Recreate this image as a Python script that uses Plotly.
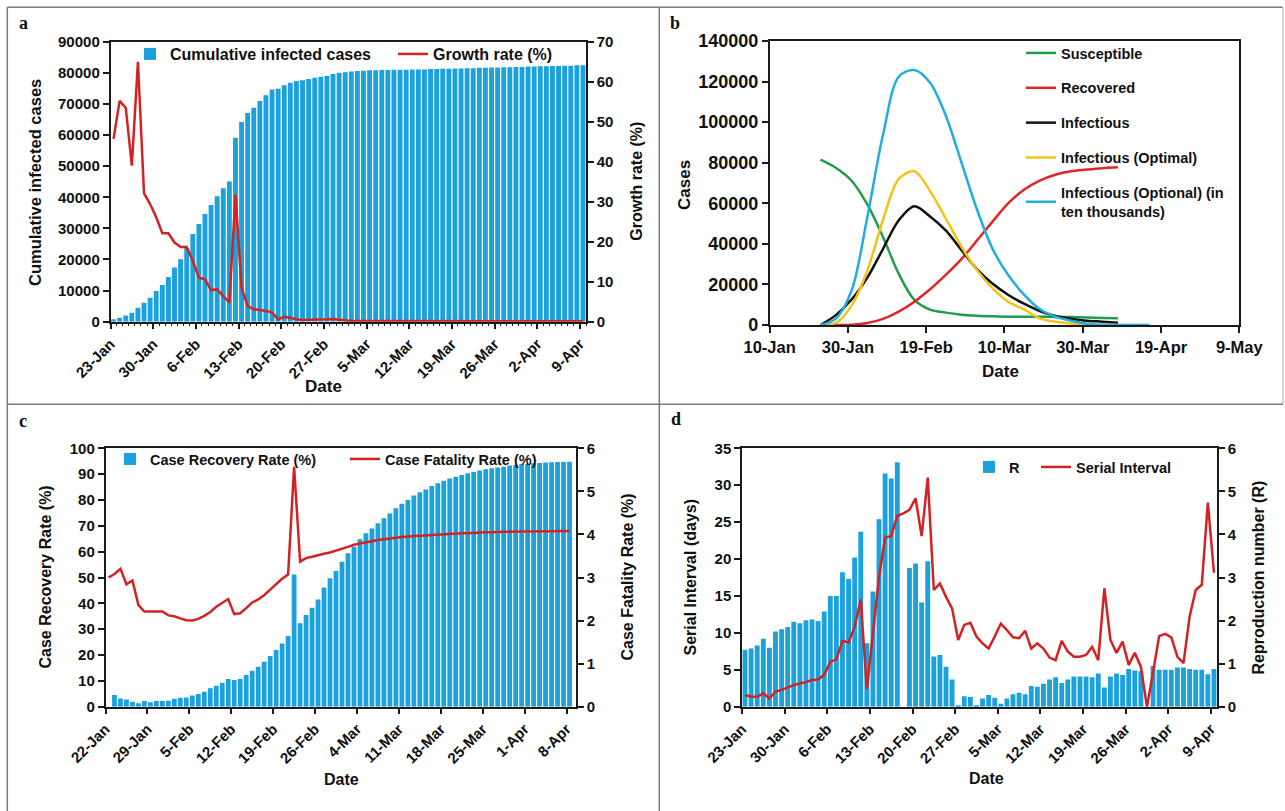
import pandas as pd
import plotly.graph_objects as go

# ---------------- data ----------------
# Panel a: cumulative infected cases (bars) and growth rate % (line), daily from 23-Jan
a_start = "2020-01-23"
a_cumulative = [750, 1300, 2000, 2900, 4500, 6100, 7700, 9900, 11800, 14400,
                17400, 20100, 23700, 28200, 31400, 34600, 37500, 40300, 42900, 45100,
                59100, 64200, 67100, 68800, 70900, 72800, 74600, 74900, 76000, 76800,
                77400, 77600, 78000, 78400, 78700, 79000, 79600, 80000, 80200, 80400,
                80600, 80700, 80800, 80800, 80900, 80900, 81000, 81000, 81000, 81100,
                81100, 81100, 81200, 81200, 81300, 81300, 81400, 81400, 81500, 81500,
                81600, 81600, 81700, 81700, 81800, 81800, 81900, 81900, 82000, 82000,
                82100, 82100, 82200, 82200, 82300, 82300, 82400, 82400]
a_growth = [45.7, 55.2, 53.5, 39.0, 65.0, 32.1, 29.4, 26.1, 22.1, 22.1,
            19.8, 18.7, 18.7, 15.2, 11.0, 10.6, 7.9, 8.1, 6.4, 4.8,
            31.7, 8.5, 3.9, 3.1, 2.9, 2.7, 2.3, 0.6, 1.2, 1.0,
            0.6, 0.4, 0.5, 0.5, 0.5, 0.6, 0.7, 0.5, 0.3, 0.2,
            0.2, 0.2, 0.2, 0.1, 0.1, 0.1, 0.1, 0.1, 0.1, 0.1,
            0.1, 0.1, 0.1, 0.1, 0.1, 0.1, 0.1, 0.1, 0.1, 0.1,
            0.1, 0.1, 0.1, 0.1, 0.1, 0.1, 0.1, 0.1, 0.1, 0.1,
            0.1, 0.1, 0.1, 0.1, 0.1, 0.1, 0.1, 0.1]

# Panel b: SIR model curves
b_dates = ["2020-01-23", "2020-01-27", "2020-01-31", "2020-02-04", "2020-02-08",
           "2020-02-12", "2020-02-16", "2020-02-20", "2020-02-24", "2020-02-28",
           "2020-03-03", "2020-03-07", "2020-03-11", "2020-03-15", "2020-03-19",
           "2020-03-23", "2020-03-27", "2020-03-31", "2020-04-04", "2020-04-08"]
b_dates_ext = b_dates + ["2020-04-12", "2020-04-16"]
b_susceptible = [81500, 77400, 71000, 59300, 43300, 25200, 12400, 7600, 6100, 5100,
                 4600, 4300, 4100, 4100, 4100, 4000, 3900, 3700, 3500, 3300]
b_recovered = [0, 0, 100, 1000, 3000, 6600, 11500, 17600, 24700, 32500,
               41700, 51100, 60100, 66700, 71200, 74100, 75800, 76600, 77300, 77800]
b_infectious = [0, 5000, 12700, 23500, 37600, 51600, 58500, 53500, 46600, 37000,
                27400, 20300, 14800, 10500, 6900, 4400, 3100, 2100, 1650, 1150]
b_inf_optimal = [0, 1100, 9700, 27000, 52000, 72000, 75800, 66000, 52500, 38700,
                 27000, 18000, 11400, 7700, 3300, 1600, 800, 300, 0, 0]
b_inf_optional = [0, 3300, 17300, 53500, 94000, 122400, 125700, 119400, 103300, 80200,
                  56800, 37400, 24500, 15000, 7900, 4100, 2100, 650, 150, 0, 0, 0]
b_names = ["Susceptible", "Recovered", "Infectious", "Infectious (Optimal)",
           "Infectious (Optional) (in<br>ten thousands)"]

# Panel c: case recovery rate % (bars) and case fatality rate % (line), daily from 22-Jan
c_start = "2020-01-22"
c_recovery = [0, 4.5, 3.2, 2.8, 1.9, 1.3, 2.2, 1.7, 2.2, 2.2,
              2.3, 3.1, 3.5, 3.6, 4.3, 4.9, 5.8, 7.1, 8.1, 9.3,
              10.7, 10.3, 10.7, 12.3, 13.9, 15.5, 17.4, 19.6, 21.9, 24.5,
              27.4, 51.2, 32.3, 35.5, 38.3, 41.5, 46.1, 49.7, 52.5, 56.1,
              59.4, 61.9, 64.8, 67.1, 69.0, 71.0, 72.9, 74.8, 76.8, 78.5,
              80.0, 81.7, 83.0, 84.1, 85.4, 86.5, 87.4, 88.3, 89.0, 89.7,
              90.3, 90.8, 91.4, 91.9, 92.3, 92.6, 92.9, 93.3, 93.5, 93.8,
              93.9, 94.2, 94.3, 94.5, 94.6, 94.7, 94.7, 94.8]
c_fatality = [3.0, 3.08, 3.2, 2.84, 2.93, 2.36, 2.21, 2.21, 2.21, 2.21,
              2.12, 2.10, 2.05, 2.01, 2.0, 2.04, 2.11, 2.2, 2.32, 2.42,
              2.5, 2.15, 2.17, 2.29, 2.42, 2.49, 2.59, 2.72, 2.85, 2.97,
              3.07, 5.57, 3.37, 3.45, 3.48, 3.52, 3.55, 3.58, 3.62, 3.66,
              3.71, 3.76, 3.79, 3.82, 3.85, 3.87, 3.89, 3.91, 3.93, 3.94,
              3.95, 3.96, 3.97, 3.98, 3.99, 4.0, 4.01, 4.02, 4.02, 4.03,
              4.03, 4.04, 4.04, 4.05, 4.05, 4.06, 4.06, 4.06, 4.07, 4.07,
              4.07, 4.07, 4.08, 4.08, 4.08, 4.08, 4.08, 4.08]

# Panel d: R (bars, left scale) and serial interval (line, right scale), daily from 23-Jan
d_start = "2020-01-23"
d_r = [7.7, 7.9, 8.3, 9.2, 8.0, 10.2, 10.5, 10.8, 11.5, 11.3,
       11.7, 11.8, 11.6, 12.9, 15.0, 15.0, 18.2, 17.3, 20.2, 23.7,
       8.6, 15.6, 25.4, 31.6, 30.9, 33.1, 0, 18.8, 19.4, 14.1,
       19.7, 6.8, 7.0, 5.4, 3.7, 0.2, 1.4, 1.3, 0.2, 1.1,
       1.6, 1.2, 0.4, 1.1, 1.7, 1.9, 1.7, 2.8, 2.7, 3.1,
       3.7, 4.0, 3.2, 3.7, 4.1, 4.1, 4.1, 4.0, 4.5, 2.6,
       4.1, 4.5, 4.3, 5.1, 4.9, 4.8, 0, 5.5, 5.0, 5.0,
       5.0, 5.3, 5.3, 5.1, 5.0, 5.0, 4.4, 5.1]
d_serial = [0.27, 0.23, 0.23, 0.31, 0.19, 0.35, 0.39, 0.45, 0.50, 0.54,
            0.57, 0.62, 0.63, 0.74, 1.04, 1.10, 1.53, 1.49, 1.86, 2.49,
            0.40, 1.7, 3.0, 3.93, 3.96, 4.43, 4.49, 4.57, 4.84, 3.96,
            5.32, 2.71, 2.86, 2.55, 2.28, 1.55, 1.90, 1.95, 1.63, 1.47,
            1.35, 1.63, 1.93, 1.78, 1.61, 1.59, 1.76, 1.35, 1.47, 1.35,
            1.14, 1.08, 1.53, 1.28, 1.16, 1.16, 1.20, 1.39, 1.08, 2.75,
            1.55, 1.25, 1.51, 0.97, 1.25, 0.93, 0.0, 0.8, 1.64, 1.69,
            1.61, 1.16, 1.01, 2.09, 2.71, 2.83, 4.74, 3.11]

# ---------------- styling ----------------
W, H = 1285, 811
FONT = "Liberation Sans, Arial, sans-serif"
BAR = "#1BA1DB"
RED = "#D42222"
AXC = "#1a1a1a"
DAY_MS = 86400000


def px(x):
    return x / W


def py(y):
    return 1 - y / H


def days(start, n):
    return pd.date_range(start, periods=n, freq="D") + pd.Timedelta(hours=12)


fig = go.Figure()

# Panel a
fig.add_trace(go.Bar(x=days(a_start, len(a_cumulative)), y=a_cumulative,
                     name="Cumulative infected cases", marker_color=BAR,
                     marker_line_width=0, xaxis="x", yaxis="y", legend="legend"))
fig.add_trace(go.Scatter(x=days(a_start, len(a_growth)), y=a_growth, mode="lines",
                         name="Growth rate (%)", line=dict(color=RED, width=2.5),
                         xaxis="x", yaxis="y2", legend="legend"))

# Panel b
b_colors = ["#1F9D4B", "#E02626", "#111111", "#F2C418", "#1FAEDF"]
b_series = [(b_dates, b_susceptible), (b_dates, b_recovered), (b_dates, b_infectious),
            (b_dates, b_inf_optimal), (b_dates_ext, b_inf_optional)]
for i, ((xs, ys), nm, col) in enumerate(zip(b_series, b_names, b_colors)):
    fig.add_trace(go.Scatter(x=xs, y=ys, mode="lines", name=nm,
                             line=dict(color=col, width=2.5, shape="spline", smoothing=0.9),
                             xaxis="x2", yaxis="y3", legend="legend2",
                             legendgroup="g%d" % i))

# Panel c
fig.add_trace(go.Bar(x=days(c_start, len(c_recovery)), y=c_recovery,
                     name="Case Recovery Rate (%)", marker_color=BAR,
                     marker_line_width=0, xaxis="x3", yaxis="y4", legend="legend3"))
fig.add_trace(go.Scatter(x=days(c_start, len(c_fatality)), y=c_fatality, mode="lines",
                         name="Case Fatality Rate (%)", line=dict(color=RED, width=2.5),
                         xaxis="x3", yaxis="y5", legend="legend3"))

# Panel d
fig.add_trace(go.Bar(x=days(d_start, len(d_r)), y=d_r, name="R", marker_color=BAR,
                     marker_line_width=0, xaxis="x4", yaxis="y6", legend="legend4"))
fig.add_trace(go.Scatter(x=days(d_start, len(d_serial)), y=d_serial, mode="lines",
                         name="Serial Interval", line=dict(color=RED, width=2.5),
                         xaxis="x4", yaxis="y7", legend="legend5"))

tickfont = dict(family=FONT, size=15, color="#111", weight="bold")
datefont = dict(family=FONT, size=15, color="#111", weight="bold")


def xdate(domain, anchor, start, end, dtick_days, angle, minor=False, font=datefont):
    d = dict(domain=domain, anchor=anchor, type="date", range=[start, end],
             tickmode="linear", tick0=start[:10], dtick=dtick_days * DAY_MS,
             tickformat="%-d-%b", tickangle=angle, tickfont=font, automargin=False,
             showline=True, linecolor=AXC, linewidth=1.5, mirror=True,
             ticks="outside", ticklen=6, tickcolor=AXC, tickwidth=1.5,
             showgrid=False, zeroline=False)
    if minor:
        d["minor"] = dict(dtick=DAY_MS, tick0=start[:10], ticks="outside",
                          ticklen=3, tickcolor=AXC, tickwidth=1)
    return d


def yax(domain, anchor, rng, dtick, side="left", overlaying=None, mirror=False, font=tickfont):
    d = dict(domain=domain, anchor=anchor, range=rng, tickmode="linear", tick0=0,
             dtick=dtick, tickformat="d", tickfont=font, side=side, automargin=False,
             showline=True, linecolor=AXC, linewidth=1.5, mirror=mirror,
             ticks="outside", ticklen=6, tickcolor=AXC, tickwidth=1.5,
             showgrid=False, zeroline=False)
    if overlaying:
        d["overlaying"] = overlaying
    return d


dom_a_x = [px(110.5), px(586)]
dom_a_y = [py(321.7), py(41.7)]
dom_b_x = [px(769.6), px(1239.3)]
dom_b_y = [py(325), py(41)]
dom_c_x = [px(105.5), px(576)]
dom_c_y = [py(706.7), py(448.3)]
dom_d_x = [px(742), px(1217)]
dom_d_y = [py(706.7), py(448.3)]

bxfont = dict(family=FONT, size=16.5, color="#111", weight="bold")
byfont = dict(family=FONT, size=18, color="#111", weight="bold")

layout = dict(
    width=W, height=H, margin=dict(l=0, r=0, t=0, b=0, pad=0, autoexpand=False),
    paper_bgcolor="white", plot_bgcolor="white", bargap=0.2,
    font=dict(family=FONT, color="#111"),
    xaxis=xdate(dom_a_x, "y", "2020-01-23", "2020-04-10", 7, -45, minor=True),
    yaxis=yax(dom_a_y, "x", [0, 90000], 10000),
    yaxis2=yax(dom_a_y, "x", [0, 70], 10, side="right", overlaying="y"),
    xaxis2=xdate(dom_b_x, "y3", "2020-01-10", "2020-05-09", 20, 0, font=bxfont),
    yaxis3=yax(dom_b_y, "x2", [0, 140000], 20000, mirror=True, font=byfont),
    xaxis3=xdate(dom_c_x, "y4", "2020-01-22", "2020-04-09 14:00", 7, -45),
    yaxis4=yax(dom_c_y, "x3", [0, 100], 10),
    yaxis5=yax(dom_c_y, "x3", [0, 6], 1, side="right", overlaying="y4"),
    xaxis4=xdate(dom_d_x, "y6", "2020-01-23", "2020-04-10", 7, -45),
    yaxis6=yax(dom_d_y, "x4", [0, 35], 5),
    yaxis7=yax(dom_d_y, "x4", [0, 6], 1, side="right", overlaying="y6"),
)


def legfont(size):
    return dict(family=FONT, size=size, color="#111", weight="bold")


layout["legend"] = dict(orientation="h", x=px(130), y=py(37), xanchor="left", yanchor="top",
                        font=legfont(16), bgcolor="rgba(0,0,0,0)", traceorder="normal",
                        entrywidth=218, entrywidthmode="pixels")
layout["legend2"] = dict(orientation="v", x=px(1021), y=py(37), xanchor="left", yanchor="top",
                         font=legfont(14.5), bgcolor="rgba(0,0,0,0)", tracegroupgap=13)
layout["legend3"] = dict(orientation="h", x=px(110), y=py(443), xanchor="left", yanchor="top",
                         font=legfont(14.5), bgcolor="rgba(0,0,0,0)", traceorder="normal",
                         entrywidth=190, entrywidthmode="pixels")
layout["legend4"] = dict(orientation="h", x=px(969), y=py(451), xanchor="left", yanchor="top",
                         font=legfont(14.5), bgcolor="rgba(0,0,0,0)")
layout["legend5"] = dict(orientation="h", x=px(1036), y=py(451), xanchor="left", yanchor="top",
                         font=legfont(14.5), bgcolor="rgba(0,0,0,0)")

titlefont = dict(family=FONT, size=16, color="#111", weight="bold")
ann = []


def title(text, x, y, angle=0, size=16):
    f = dict(titlefont)
    f["size"] = size
    ann.append(dict(text=text, x=px(x), y=py(y), xref="paper", yref="paper",
                    showarrow=False, textangle=angle, font=f,
                    xanchor="center", yanchor="middle"))


title("Cumulative infected cases", 35, 183, -90, 16.5)
title("Growth rate (%)", 637, 181.7, -90)
title("Date", 323, 386, 0, 17)
title("Cases", 684, 185, -90, 17)
title("Date", 1000, 372, 0, 17)
title("Case Recovery Rate (%)", 45, 577.5, -90)
title("Case Fatality Rate (%)", 627, 577.5, -90)
title("Date", 341, 779)
title("Serial Interval (days)", 690, 577.5, -90)
title("Reproduction number (R)", 1258, 577.5, -90)
title("Date", 986, 778.5)

for lab, x, y in [("a", 23, 23), ("b", 675, 23), ("c", 23, 421), ("d", 676, 419)]:
    ann.append(dict(text=lab, x=px(x), y=py(y), xref="paper", yref="paper",
                    showarrow=False,
                    font=dict(family="Liberation Serif, Times New Roman, serif",
                              size=18, color="#111", weight="bold"),
                    xanchor="center", yanchor="middle"))
layout["annotations"] = ann

border = "#7a7a7a"
shapes = []
for x0, y0, x1, y1, col in [(7.3, 7.3, 1283, 7.3, border), (7.3, 7.3, 7.3, 811, border),
                            (1283, 7.3, 1283, 404.3, "#c8c8c8"),
                            (659.3, 7.3, 659.3, 811, border), (7.3, 404.3, 1283, 404.3, border)]:
    shapes.append(dict(type="line", xref="paper", yref="paper",
                       x0=px(x0), y0=py(y0), x1=px(x1), y1=py(y1),
                       line=dict(color=col, width=1.5)))
layout["shapes"] = shapes

fig.update_layout(**layout)
fig.write_html("out.html", config={"displayModeBar": False},
               post_script="document.body.style.margin='0';document.body.style.overflow='hidden';")
